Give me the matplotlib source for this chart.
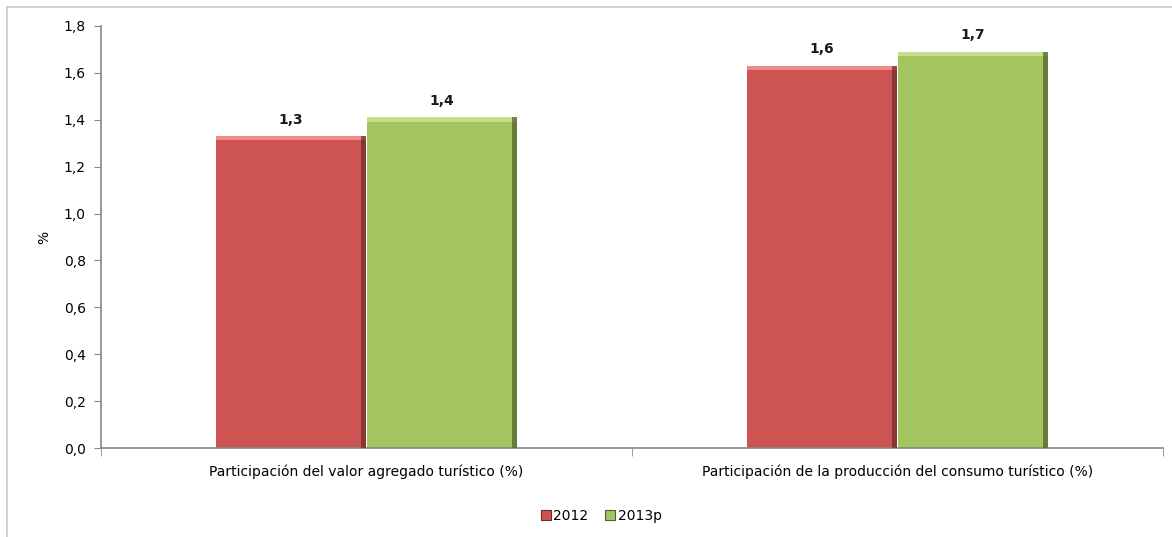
import matplotlib
matplotlib.use('Agg')
import matplotlib.pyplot as plt
from matplotlib.patches import Rectangle
import numpy as np

categories = ['Participación del valor agregado turístico (%)',
              'Participación de la producción del consumo turístico (%)']
series = ['2012', '2013p']
valores_2012 = [1.33, 1.63]
valores_2013 = [1.41, 1.69]
etiquetas_2012 = ['1,3', '1,6']
etiquetas_2013 = ['1,4', '1,7']
yticks = [0.0, 0.2, 0.4, 0.6, 0.8, 1.0, 1.2, 1.4, 1.6, 1.8]

colores = ['#CD5452', '#A4C45F']
claros = ['#F08A88', '#C6E08A']
oscuros = ['#6E2A28', '#4F5E2A']

plt.rcParams['font.family'] = ['DejaVu Sans']
fig = plt.figure(figsize=(11.72, 5.37), dpi=100)
ax = fig.add_axes([0.0862, 0.1657, 0.9061, 0.7859])

# marco exterior del gráfico
fig.patches.append(Rectangle((7 / 1172, -0.1), 1.2, 1 - 7 / 537 + 0.1, transform=fig.transFigure,
                             fill=False, edgecolor='#C8C8C8', linewidth=1.2))

x = np.arange(len(categories))
w = 0.283
off = 0.1425

for vals, labs, c, cl, co, dx in [(valores_2012, etiquetas_2012, colores[0], claros[0], oscuros[0], -off),
                                  (valores_2013, etiquetas_2013, colores[1], claros[1], oscuros[1], off)]:
    ax.bar(x + dx, vals, w, color=c, edgecolor='none', zorder=2)
    # efecto bisel: franja clara arriba, oscura a la derecha
    ax.bar(x + dx, [0.018] * len(vals), w, bottom=np.array(vals) - 0.018, color=cl, zorder=3)
    ax.bar(x + dx + w / 2 - 0.005, vals, 0.010, color=co, alpha=0.7, zorder=3)
    for xi, v, t in zip(x + dx, vals, labs):
        ax.text(xi, v + 0.04, t, ha='center', va='bottom', fontsize=10, fontweight='bold', color='#1a1a1a')

ax.set_xlim(-0.5, 1.5)
ax.set_ylim(0, 1.8)
ax.set_yticks(yticks)
ax.set_yticklabels([f'{t:.1f}'.replace('.', ',') for t in yticks], fontsize=10)
ax.set_xticks(x)
ax.set_xticklabels(categories, fontsize=10)
ax.tick_params(axis='x', length=0, pad=12)
ax.set_xticks([-0.5, 0.5, 1.5], minor=True)
ax.tick_params(axis='x', which='minor', length=6, color='#888888')
ax.tick_params(axis='y', length=5, color='#888888', pad=6)
ax.set_ylabel('%', fontsize=10, labelpad=9)

for s in ['top', 'right']:
    ax.spines[s].set_visible(False)
for s in ['left', 'bottom']:
    ax.spines[s].set_color('#888888')
    ax.spines[s].set_linewidth(1.2)

handles = [Rectangle((0, 0), 1, 1, facecolor=c, edgecolor=co, linewidth=0.8) for c, co in zip(colores, oscuros)]
fig.legend(handles, series, loc='center', bbox_to_anchor=(0.513, 0.04), ncol=2, frameon=False,
           fontsize=10, handlelength=0.7, handleheight=0.7, handletextpad=0.2, columnspacing=1.2)

fig.savefig('out.png', dpi=100)
